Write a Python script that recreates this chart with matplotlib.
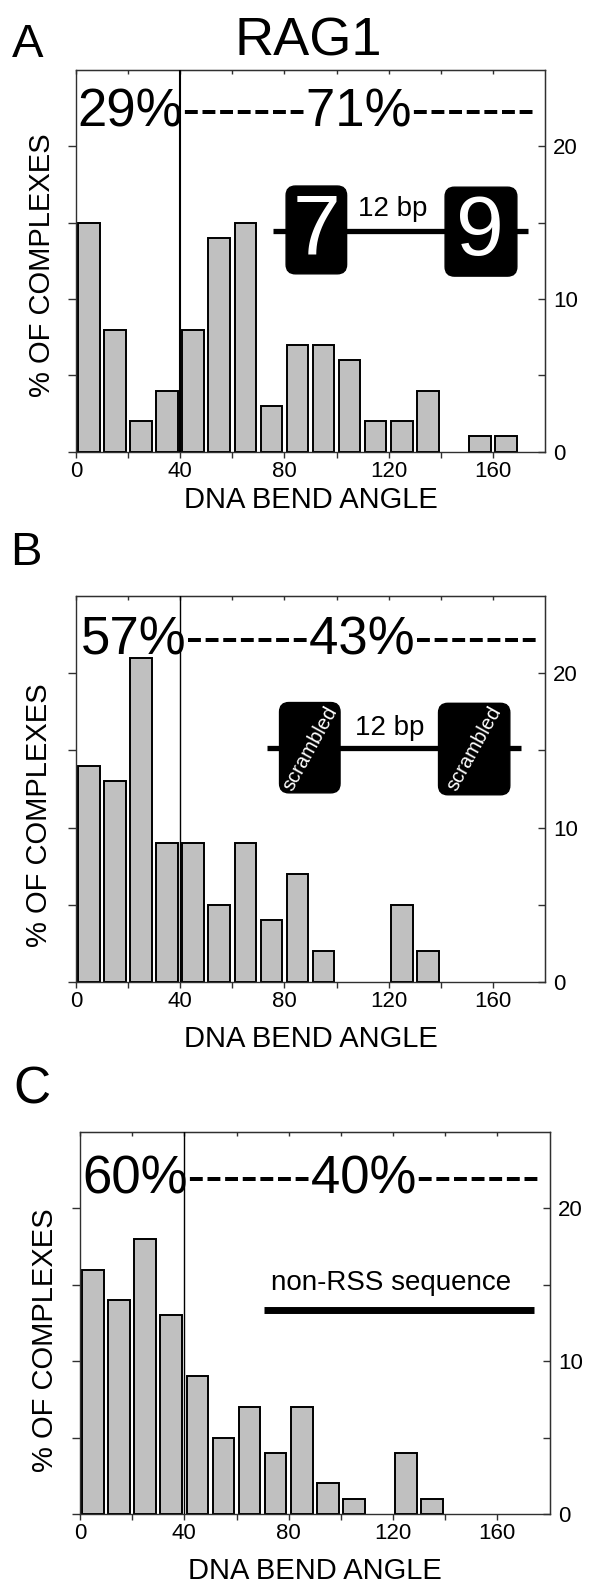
import numpy as np
import matplotlib
matplotlib.use("Agg")
import matplotlib.pyplot as plt
from matplotlib.patches import FancyBboxPatch

plt.rcParams['font.family'] = ['Liberation Sans', 'DejaVu Sans']

W, H = 602, 1593

# histogram bins (degrees) and % of complexes per bin
bin_starts = np.arange(0, 170, 10)
rag1_rss = [15, 8, 2, 4, 8, 14, 15, 3, 7, 7, 6, 2, 2, 4, 0, 1, 1]
rag1_scrambled = [14, 13, 21, 9, 9, 5, 9, 4, 7, 2, 0, 0, 5, 2, 0, 0, 0]
rag1_nonrss = [16, 14, 18, 13, 9, 5, 7, 4, 7, 2, 1, 0, 4, 1, 0, 0, 0]

pct_below = [29, 57, 60]
pct_above = [71, 43, 40]
threshold = 40

panel_letters = ["A", "B", "C"]
xticks = [0, 20, 40, 60, 80, 100, 120, 140, 160]
xticklabels = ["0", "", "40", "", "80", "", "120", "", "160"]
yticks = [0, 5, 10, 15, 20]
yticklabels = ["0", "", "10", "", "20"]


def px_rect(left, top, right, bottom):
    return [left / W, 1 - bottom / H, (right - left) / W, (bottom - top) / H]


def fig_text(fig, x, y, s, **kw):
    fig.text(x / W, 1 - y / H, s, **kw)


def rounded_box(ax, x0, y0, x1, y1, aspect):
    ax.add_patch(FancyBboxPatch((x0, y0), x1 - x0, y1 - y0,
                                boxstyle="round,pad=0,rounding_size=0.02",
                                mutation_aspect=aspect, transform=ax.transAxes,
                                fc="black", ec="black", lw=1, zorder=5))


def histo(ax, vals, below, above, tx, ty, vline_lw):
    vals = np.array(vals)
    keep = vals > 0
    ax.bar(bin_starts[keep] + 5, vals[keep], width=8.3, color="#c0c0c0",
           edgecolor="black", linewidth=1.4, zorder=2)
    ax.axvline(threshold, color="black", lw=vline_lw, zorder=3)
    ax.set_xlim(0, 180)
    ax.set_ylim(0, 25)
    for s in ax.spines.values():
        s.set_color("#303030")
        s.set_linewidth(1.0)

    ax.set_xticks(xticks, labels=xticklabels)
    ax.tick_params(axis="x", direction="out", length=4.5, width=1, pad=2,
                   labelsize=16, colors="#303030", labelcolor="black")
    top = ax.secondary_xaxis("top")
    top.set_xticks(xticks)
    top.tick_params(direction="in", length=3, width=1, labeltop=False, colors="#303030")

    ax.set_yticks(yticks)
    ax.tick_params(axis="y", direction="out", length=5.5, width=1, labelleft=False,
                   colors="#303030")
    right = ax.secondary_yaxis("right")
    right.set_yticks(yticks, labels=yticklabels)
    right.tick_params(direction="in", length=5, width=1, pad=6, labelsize=16,
                      colors="#303030", labelcolor="black")

    ax.text(tx, ty, f"{below}%-------{above}%-------", fontsize=38,
            va="baseline", ha="left", zorder=6)


fig = plt.figure(figsize=(W / 100, H / 100), dpi=100)

rects = [(76, 70, 545, 451.7), (76, 596, 545, 982), (80, 1132, 549.5, 1514)]
data = [rag1_rss, rag1_scrambled, rag1_nonrss]
txt_pos = [(0.4, 21.3), (2.0, 21.2), (1.1, 21.0)]
vline_w = [1.5, 1.0, 1.0]
letter_pos = [(12, 57, 34), (10, 565, 34), (13, 1104, 37)]
xlabel_y = [508, 1047, 1579]
ylabel_pos = [(42, 265), (39, 815), (45, 1340)]

axes = []
for i in range(3):
    ax = fig.add_axes(px_rect(*rects[i]))
    histo(ax, data[i], pct_below[i], pct_above[i], *txt_pos[i], vline_w[i])
    axes.append(ax)
    l, t, r, b = rects[i]
    fig_text(fig, (l + r) / 2, xlabel_y[i], "DNA BEND ANGLE", fontsize=21,
             ha="center", va="baseline")
    fig_text(fig, ylabel_pos[i][0], ylabel_pos[i][1], "% OF COMPLEXES",
             fontsize=21, rotation=90, ha="center", va="center")
    lx, ly, ls = letter_pos[i]
    fig_text(fig, lx, ly, panel_letters[i], fontsize=ls, ha="left", va="baseline")

fig_text(fig, 308, 55, "RAG1", fontsize=39, ha="center", va="baseline")

# panel A inset: 7 -- 12 bp -- 9
ax = axes[0]
asp = (545 - 76) / (451.7 - 70)
ax.plot([0.42, 0.964], [0.578, 0.578], transform=ax.transAxes, color="black",
        lw=3.8, solid_capstyle="butt", zorder=4)
rounded_box(ax, 0.448, 0.466, 0.577, 0.696, asp)
rounded_box(ax, 0.787, 0.460, 0.940, 0.693, asp)
ax.text(0.512, 0.578, "7", transform=ax.transAxes, color="white", fontsize=62,
        ha="center", va="center", zorder=6)
ax.text(0.862, 0.574, "9", transform=ax.transAxes, color="white", fontsize=62,
        ha="center", va="center", zorder=6)
ax.text(0.675, 0.635, "12 bp", transform=ax.transAxes, fontsize=20,
        ha="center", va="center", zorder=6)

# panel B inset: scrambled -- 12 bp -- scrambled
ax = axes[1]
asp = (545 - 76) / (982 - 596)
ax.plot([0.407, 0.949], [0.607, 0.607], transform=ax.transAxes, color="black",
        lw=3.8, solid_capstyle="butt", zorder=4)
rounded_box(ax, 0.434, 0.490, 0.563, 0.724, asp)
rounded_box(ax, 0.773, 0.485, 0.925, 0.722, asp)
for cx in (0.4985, 0.849):
    ax.text(cx, 0.606, "scrambled", transform=ax.transAxes, color="white",
            fontsize=14.5, rotation=61, ha="center", va="center",
            rotation_mode="anchor", zorder=6)
ax.text(0.669, 0.658, "12 bp", transform=ax.transAxes, fontsize=20,
        ha="center", va="center", zorder=6)

# panel C inset: plain line
ax = axes[2]
ax.text(0.663, 0.604, "non-RSS sequence", transform=ax.transAxes, fontsize=20,
        ha="center", va="center", zorder=6)
ax.plot([0.391, 0.967], [0.535, 0.535], transform=ax.transAxes, color="black",
        lw=5, solid_capstyle="butt", zorder=4)

fig.savefig("out.png", dpi=100)
